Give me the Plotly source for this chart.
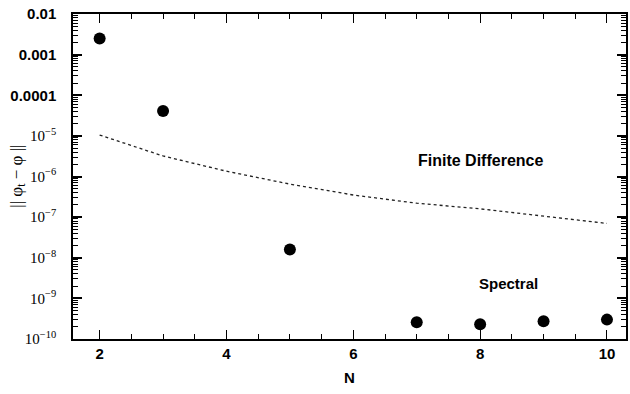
import plotly.graph_objects as go

# Data
spectral_N = [2, 3, 5, 7, 8, 9, 10]
spectral_err = [2.5e-3, 4.1e-5, 1.6e-8, 2.6e-10, 2.3e-10, 2.75e-10, 3.0e-10]

fd_N = [2, 3, 4, 5, 6, 7, 8, 9, 10]
fd_err = [1.05e-5, 3.2e-6, 1.35e-6, 6.5e-7, 3.5e-7, 2.2e-7, 1.6e-7, 1.05e-7, 7.0e-8]

y_tickvals = [1e-2, 1e-3, 1e-4, 1e-5, 1e-6, 1e-7, 1e-8, 1e-9, 1e-10]
serif = "font-family:'Liberation Serif';font-weight:normal"
y_ticktext = ["0.01", "0.001", "0.0001"] + [
    f"<span style=\"{serif}\">10<sup>−{e}</sup></span>" for e in range(5, 11)
]
x_tickvals = [2, 4, 6, 8, 10]
x_minor = [v / 2 for v in range(4, 21) if v % 4 != 0]

minor_y = [k * 10.0 ** e for e in range(-10, -2) for k in range(2, 10)]

fig = go.Figure()
fig.add_trace(go.Scatter(
    x=fd_N, y=fd_err, mode="lines",
    line=dict(color="#222", width=1.3, dash="dot"),
    showlegend=False,
))
fig.add_trace(go.Scatter(
    x=spectral_N, y=spectral_err, mode="markers",
    marker=dict(color="black", size=12),
    showlegend=False,
))

fig.add_annotation(x=8.0, y=-5.6, xref="x", yref="y", text="<b>Finite Difference</b>",
                   showarrow=False, font=dict(size=16, color="black", family="Liberation Sans"))
fig.add_annotation(x=8.45, y=-8.63, xref="x", yref="y", text="<b>Spectral</b>",
                   showarrow=False, font=dict(size=15, color="black", family="Liberation Sans"))
fig.add_annotation(x=-(73 - 17) / (630 - 75), y=0.5, xref="paper", yref="paper",
                   xanchor="center", yanchor="middle",
                   text="|| φ<sub>t</sub> − φ ||", textangle=-90, showarrow=False,
                   font=dict(size=17, color="black", family="Liberation Serif"))

axis_common = dict(
    showline=True, linecolor="black", linewidth=1.5, mirror="ticks",
    ticks="inside", tickcolor="black", showgrid=False, zeroline=False,
)

fig.update_xaxes(
    range=[1.58, 10.3], tickvals=x_tickvals, ticklen=9, tickwidth=1.3,
    minor=dict(ticks="inside", tickmode="array", tickvals=x_minor, ticklen=5,
               tickcolor="black", tickwidth=1.1),
    tickfont=dict(size=15, color="black", family="Liberation Sans", weight="bold"),
    ticklabelstandoff=0,
    title=dict(text="<b>N</b>", font=dict(size=15, color="black", family="Liberation Sans"), standoff=12),
    **axis_common,
)
fig.update_yaxes(
    type="log", range=[-10, -2], tickmode="array", tickvals=y_tickvals, ticktext=y_ticktext,
    ticklen=9, tickwidth=1.5,
    minor=dict(ticks="inside", tickmode="array", tickvals=minor_y, ticklen=5,
               tickcolor="black", tickwidth=1.1),
    tickfont=dict(size=15, color="black", family="Liberation Sans", weight="bold"),
    ticklabelstandoff=12,
    **axis_common,
)

fig.update_layout(
    width=630, height=394,
    margin=dict(l=73, r=2, t=14, b=55),
    paper_bgcolor="white", plot_bgcolor="white",
)

fig.write_html("out.html")
